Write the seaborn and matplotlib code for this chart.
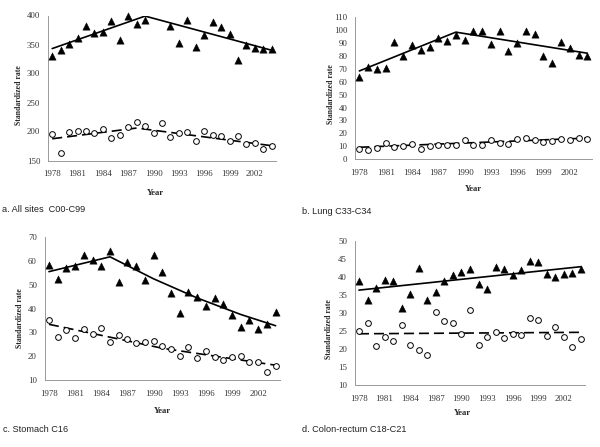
import numpy as np
import matplotlib.pyplot as plt
import seaborn as sns

# --- data (standardized rates by year) ---
years = list(range(1978, 2005))

# a. All sites C00-C99 (no male points shown for 1990-1991)
a_men = [330, 340, 351, 362, 382, 370, 372, 391, 358, 400, 386, 393, np.nan, np.nan,
         382, 353, 392, 346, 367, 389, 380, 368, 324, 349, 344, 342, 343]
a_women = [196, 163, 199, 201, 201, 197, 204, 189, 194, 208, 216, 209, 197, 214,
           190, 197, 199, 183, 201, 194, 193, 184, 193, 178, 180, 170, 175]
a_men_trend_x = [1978, 1989, 2004]
a_men_trend = [343, 399, 340]
a_women_trend_x = [1978, 1988, 2004]
a_women_trend = [187.5, 206, 175.5]

# b. Lung C33-C34
b_men = [63.6, 71.4, 69.8, 70.9, 90.8, 80.2, 88.4, 84.6, 86.9, 93.9, 91.1, 96.2, 92.3,
         99.3, 98.8, 89.2, 98.8, 83.8, 90.0, 99.1, 96.8, 79.7, 74.8, 90.5, 85.9, 80.4, 79.8]
b_women = [7.7, 7.2, 8.5, 12.4, 9.8, 10.6, 12.1, 8.2, 10.6, 11.1, 11.3, 11.3, 15.2,
           10.8, 11.3, 15.2, 12.6, 11.6, 16.0, 16.8, 14.7, 13.4, 14.5, 16.0, 15.2, 16.5, 15.9]
b_men_trend_x = [1978, 1989, 2004]
b_men_trend = [68.3, 98.3, 82]
b_women_trend_x = [1978, 2004]
b_women_trend = [9.3, 16.4]

# c. Stomach C16
c_men = [58.2, 52.5, 56.8, 57.9, 62.2, 60.3, 57.8, 64.0, 51.1, 59.3, 57.8, 51.8, 62.2,
         55.4, 46.5, 38.0, 47.0, 44.7, 41.0, 44.5, 41.9, 37.4, 32.1, 35.2, 31.3, 33.7, 38.5]
c_women = [35.1, 28.2, 30.9, 27.7, 31.6, 29.2, 31.7, 25.9, 28.8, 27.4, 25.4, 25.9, 26.3,
           24.3, 23.1, 20.0, 23.8, 19.4, 22.2, 19.6, 18.3, 19.7, 20.0, 17.8, 17.6, 13.5, 16.1]
c_men_trend_x = [1978, 1985, 1990, 1995, 2000, 2004]
c_men_trend = [55.4, 61.6, 52.4, 44.4, 37.5, 32.8]
c_women_trend_x = [1978, 1991, 2004]
c_women_trend = [33.4, 23.4, 16.3]

# d. Colon-rectum C18-C21
d_men = [38.9, 33.6, 36.8, 39.1, 38.9, 31.4, 35.1, 42.5, 33.6, 35.8, 38.8, 40.4, 41.2,
         42.2, 38.0, 36.7, 42.7, 42.2, 40.5, 41.8, 44.3, 44.0, 40.7, 40.0, 40.8, 41.0, 42.2]
d_women = [25.1, 27.2, 20.8, 23.4, 22.2, 26.6, 21.0, 19.6, 18.3, 30.3, 27.8, 27.2, 24.2,
           30.7, 21.1, 23.3, 24.7, 22.9, 24.2, 23.9, 28.5, 28.0, 23.6, 26.0, 23.3, 20.4, 22.8]
d_men_trend_x = [1978, 2004]
d_men_trend = [36.3, 42.8]
d_women_trend_x = [1978, 2004]
d_women_trend = [24.2, 24.6]

captions = ["a. All sites  C00-C99", "b. Lung C33-C34",
            "c. Stomach C16", "d. Colon-rectum C18-C21"]

sns.set_style("white")
plt.rcParams['font.family'] = ['Liberation Serif', 'DejaVu Serif']

W, H = 600, 447
fig = plt.figure(figsize=(6, 4.47), dpi=100)


def panel(box, men, women, mtx, mty, wtx, wty, ylim, ystep, ylab_xy, xlab_xy):
    l, t, r, b = box
    ax = fig.add_axes([l / W, 1 - b / H, (r - l) / W, (b - t) / H])
    sns.lineplot(x=mtx, y=mty, color='black', lw=1.2, ax=ax)
    sns.lineplot(x=wtx, y=wty, color='black', lw=1.2, ax=ax,
                 linestyle=(0, (6, 3)))
    sns.scatterplot(x=years, y=men, marker='^', s=28, color='black',
                    edgecolor='black', linewidth=0.3, ax=ax, zorder=3,
                    clip_on=False)
    sns.scatterplot(x=years, y=women, marker='o', s=17, facecolor='white',
                    edgecolor='black', linewidth=0.7, ax=ax, zorder=3,
                    clip_on=False)

    ax.set_xlim(1977.5, 2004.5)
    ax.set_xticks(range(1978, 2004, 3))
    ax.set_xticks(np.arange(1977.5, 2005, 1), minor=True)
    ax.set_ylim(*ylim)
    ax.set_yticks(np.arange(ylim[0], ylim[1] + 0.01, ystep))
    ax.tick_params(axis='x', which='major', length=0, pad=7,
                   labelsize=6.3, labelcolor='#333333')
    ax.tick_params(axis='x', which='minor', length=2.5, width=0.6,
                   color='#888888', direction='out')
    ax.tick_params(axis='y', length=2.5, width=0.6, color='#888888',
                   direction='out', pad=3, labelsize=6.3, labelcolor='#333333')
    for side in ['top', 'right']:
        ax.spines[side].set_visible(False)
    for side in ['left', 'bottom']:
        ax.spines[side].set_color('#999999')
        ax.spines[side].set_linewidth(0.7)

    ax.set_ylabel('Standardized rate', fontsize=5.6, fontweight='bold')
    ax.yaxis.set_label_coords(ylab_xy[0] + 0.013, ylab_xy[1])
    ax.set_xlabel('Year', fontsize=6.2, fontweight='bold')
    ax.xaxis.set_label_coords(xlab_xy[0], xlab_xy[1] + 0.017)
    return ax


panel((48, 15.5, 276, 160.5), a_men, a_women, a_men_trend_x, a_men_trend,
      a_women_trend_x, a_women_trend, (150, 400), 50, (-0.123, 0.45), (0.47, -0.215))
panel((355, 17, 591.7, 159.3), b_men, b_women, b_men_trend_x, b_men_trend,
      b_women_trend_x, b_women_trend, (0, 110), 10, (-0.098, 0.46), (0.5, -0.2))
panel((44.6, 236.7, 280, 380.3), c_men, c_women, c_men_trend_x, c_men_trend,
      c_women_trend_x, c_women_trend, (10, 70), 10, (-0.1, 0.435), (0.5, -0.205))
panel((354.7, 240.7, 585.3, 385), d_men, d_women, d_men_trend_x, d_men_trend,
      d_women_trend_x, d_women_trend, (10, 50), 5, (-0.107, 0.39), (0.465, -0.18))

cap_pos = [(2, 210), (302, 211), (3, 429), (302, 429)]
for (cx, cy), cap in zip(cap_pos, captions):
    fig.text(cx / W, 1 - cy / H, cap, fontsize=6.6, color='#222222',
             family=['Liberation Sans', 'DejaVu Sans'], va='center', ha='left')

fig.savefig('out.png', dpi=100, facecolor='white')
